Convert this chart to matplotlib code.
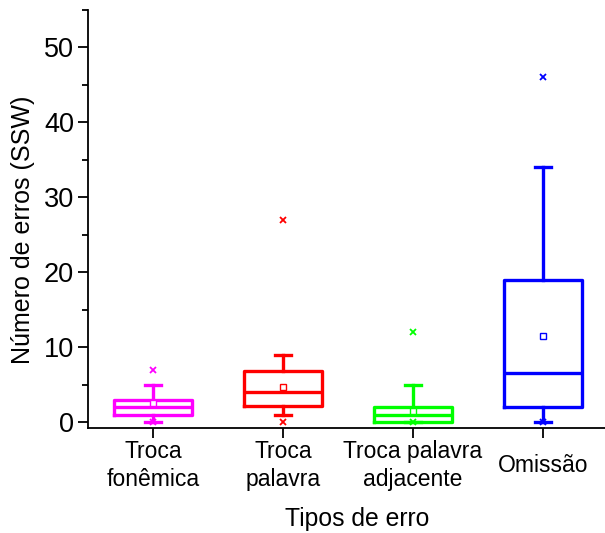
import matplotlib
matplotlib.use("Agg")
import matplotlib.pyplot as plt
from matplotlib.ticker import MultipleLocator

plt.rcParams['font.family'] = ['Liberation Sans', 'DejaVu Sans']

categories = ["Troca\nfonêmica", "Troca\npalavra", "Troca palavra\nadjacente", "Omissão"]
colors = ["#FF00FF", "#FF0000", "#00FF00", "#0000FF"]
q1 = [1, 2.2, 0, 2]
median = [2, 4, 1, 6.5]
q3 = [3, 6.8, 2, 19]
whis_lo = [0, 1, 0, 0]
whis_hi = [5, 9, 5, 34]
means = [2.5, 4.7, 1.5, 11.5]
max_vals = [7, 27, 12, 46]
min_vals = [0, 0, 0, 0]

fig = plt.figure(figsize=(6.05, 5.33), dpi=100)
ax = fig.add_axes([88/605, 105/533, 517/605, 418/533])

positions = [1, 2, 3, 4]
for i in range(4):
    stats = [dict(med=median[i], q1=q1[i], q3=q3[i], whislo=whis_lo[i], whishi=whis_hi[i],
                  mean=means[i], fliers=[max_vals[i], min_vals[i]])]
    c = colors[i]
    ax.bxp(stats, positions=[positions[i]], widths=0.6, capwidths=0.12,
           showmeans=True, showfliers=True, manage_ticks=False,
           boxprops=dict(color=c, linewidth=2.4),
           medianprops=dict(color=c, linewidth=2.4),
           whiskerprops=dict(color=c, linewidth=2.4),
           capprops=dict(color=c, linewidth=2.4),
           meanprops=dict(marker='s', markersize=4.5, markerfacecolor='white',
                          markeredgecolor=c, markeredgewidth=1.0),
           flierprops=dict(marker='x', markersize=4.5, markeredgecolor=c,
                           markeredgewidth=1.3, linestyle='none'))

ax.set_xlim(0.5, 0.5 + 517/130)
ax.set_ylim(-0.8, 55)
ax.set_xticks(positions)
ax.set_xticklabels(categories, fontsize=16.5, linespacing=1.3, va='center')
ax.tick_params(axis='x', which='major', length=7, width=1.3, pad=20)
ax.yaxis.set_major_locator(MultipleLocator(10))
ax.yaxis.set_minor_locator(MultipleLocator(5))
ax.tick_params(axis='y', which='major', length=7, width=1.3, labelsize=19.5, pad=3)
ax.tick_params(axis='y', which='minor', length=4, width=1.3)
for s in ['top', 'right']:
    ax.spines[s].set_visible(False)
for s in ['left', 'bottom']:
    ax.spines[s].set_linewidth(1.3)

ax.set_xlabel("Tipos de erro", fontsize=17.8)
ax.xaxis.set_label_coords(0.521, -0.218, transform=ax.transAxes)
ax.xaxis.label.set_va('center')
ax.set_ylabel("Número de erros (SSW)", fontsize=18)
ax.yaxis.set_label_coords(-0.126, 0.474)
ax.yaxis.label.set_va('center')

fig.savefig("out.png", dpi=100)
